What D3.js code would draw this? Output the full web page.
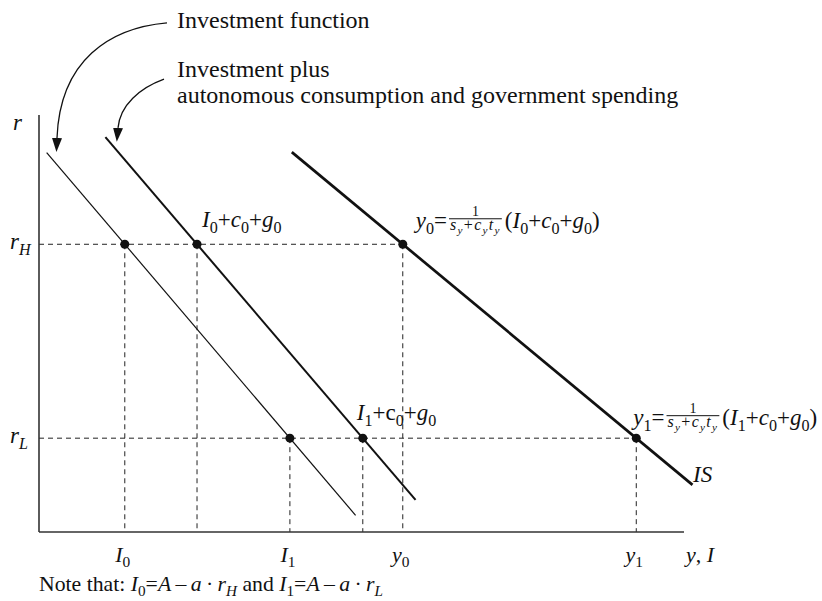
<!DOCTYPE html>
<html lang="en">
    <head>
        <meta charset="utf-8">
        <title>IS curve derivation</title>
        <script src="https://d3js.org/d3.v7.min.js"></script>
        <style type="text/css">
            body { margin: 0; background: #fff; }
            text { font-family: "Liberation Serif", "Times New Roman", serif; fill: #111; }
        </style>
    </head>
    <body>
        <svg width="822" height="601"></svg>
        <script type="text/javascript">

            // interest rate levels (rH, rL) in chart units
            const rLevels = [6.9, 2.25];
            const rNames = ["H", "L"];
            // x positions of each schedule at rH and at rL
            const investment = [13.3, 38.9];
            const investPlus = [24.5, 50.2];
            const isCurve = [56.4, 92.6];
            // r range over which each schedule is drawn [top, bottom]
            const investSpan = [9.1, 0.4];
            const plusSpan = [9.47, 0.77];
            const isSpan = [9.11, 1.13];
            // axis labels under the vertical guides
            const xLabels = [
                {v: investment[0], label: "I_0"},
                {v: investment[1], label: "I_1"},
                {v: isCurve[0], label: "y_0"},
                {v: isCurve[1], label: "y_1"}
            ];
            // annotation arrows (chart units): start, c1, c2, end
            const arrows = [
                [[19.84, 12.21], [11.0, 12.09], [3.26, 11.32], [2.79, 9.45]],
                [[19.38, 10.86], [15.66, 10.65], [12.56, 10.24], [12.25, 9.69]]
            ];

            const svg = d3.select("svg");
            const x = d3.scaleLinear().domain([0, 100]).range([39, 684]);
            const y = d3.scaleLinear().domain([0, 10]).range([532, 115]);

            // turns "I_0+c_0" into styled pieces; letters italic, {..} roman
            function parse(str) {
                const out = [];
                let roman = false;
                for (let i = 0; i < str.length; i++) {
                    let ch = str[i];
                    if (ch === "{") { roman = true; continue; }
                    if (ch === "}") { roman = false; continue; }
                    let sub = false;
                    if (ch === "_") { sub = true; ch = str[++i]; }
                    const ital = !roman && /[A-Za-z]/.test(ch);
                    const last = out[out.length - 1];
                    if (last && last.sub === sub && last.ital === ital) last.t += ch;
                    else out.push({t: ch, sub: sub, ital: ital});
                }
                return out;
            }

            // writes pieces into a text element, first tspan placed at px,py
            function richInto(t, px, py, str, size, spacing) {
                let shift = 0;
                parse(str).forEach((p, k) => {
                    const ts = t.append("tspan").text(p.t).attr("font-size", p.sub ? size * 0.7 : size);
                    const want = p.sub ? size * 0.24 : 0;
                    if (k === 0) { ts.attr("x", px).attr("y", py + want); shift = want; }
                    else if (want !== shift) { ts.attr("dy", want - shift); shift = want; }
                    if (p.ital) ts.attr("font-style", "italic");
                    if (spacing) ts.attr("letter-spacing", spacing);
                });
                return t;
            }

            function rich(g, px, py, str, size, anchor) {
                const t = g.append("text").attr("text-anchor", anchor || "start");
                return richInto(t, px, py, str, size);
            }

            function measure(g, str, size, spacing) {
                const t = richInto(g.append("text"), 0, -50, str, size, spacing);
                const w = t.node().getComputedTextLength();
                t.remove();
                return w;
            }

            // lhs, stacked fraction 1/(sy+cyty), rhs: all in one text element
            function formula(g, px, py, lhs, rhs) {
                const wl = measure(g, lhs, 23);
                const wd = measure(g, "s_y+c_yt_y", 16, 1.3) + 2;
                const fx = px + wl + 2;
                g.append("line")
                    .attr("x1", fx).attr("x2", fx + wd)
                    .attr("y1", py - 9.5).attr("y2", py - 9.5)
                    .attr("stroke", "#111").attr("stroke-width", 1);
                const t = g.append("text");
                richInto(t, px, py, lhs, 23);
                t.append("tspan").attr("x", fx + wd / 2 - 3.5).attr("y", py - 12)
                    .attr("font-size", 14).text("1");
                richInto(t, fx + 1, py + 2, "s_y+c_yt_y", 16, 1.3);
                richInto(t, fx + wd + 3, py, rhs, 23);
            }

            const xAt = (pts, r) => pts[0] + (r - rLevels[0]) * (pts[1] - pts[0]) / (rLevels[1] - rLevels[0]);

            // dashed guides
            const guides = svg.append("g")
                .attr("stroke", "#222").attr("stroke-width", 1)
                .attr("stroke-dasharray", "5,4").attr("fill", "none");
            rLevels.forEach((r, i) => {
                guides.append("line")
                    .attr("x1", x(0)).attr("x2", x(isCurve[i]))
                    .attr("y1", y(r)).attr("y2", y(r));
                [investment[i], investPlus[i], isCurve[i]].forEach(v => {
                    guides.append("line")
                        .attr("x1", x(v)).attr("x2", x(v))
                        .attr("y1", y(r)).attr("y2", y(0));
                });
            });

            // axes
            svg.append("line")
                .attr("x1", x(0)).attr("x2", x(0)).attr("y1", y(10)).attr("y2", y(0))
                .attr("stroke", "#333").attr("stroke-width", 1.6);
            svg.append("line")
                .attr("x1", x(0)).attr("x2", x(100)).attr("y1", y(0)).attr("y2", y(0))
                .attr("stroke", "#333").attr("stroke-width", 1.6);

            // schedules
            const schedules = [
                {pts: investment, span: investSpan, w: 1.2},
                {pts: investPlus, span: plusSpan, w: 2},
                {pts: isCurve, span: isSpan, w: 2.7}
            ];
            schedules.forEach(s => {
                svg.append("line")
                    .attr("x1", x(xAt(s.pts, s.span[0]))).attr("y1", y(s.span[0]))
                    .attr("x2", x(xAt(s.pts, s.span[1]))).attr("y2", y(s.span[1]))
                    .attr("stroke", "#111").attr("stroke-width", s.w);
            });

            // dots
            schedules.forEach(s => {
                rLevels.forEach((r, i) => {
                    svg.append("circle")
                        .attr("cx", x(s.pts[i])).attr("cy", y(r)).attr("r", 4.5)
                        .attr("fill", "#111");
                });
            });

            // arrows
            svg.append("defs").append("marker")
                .attr("id", "ah").attr("viewBox", "0 -5 14 10")
                .attr("refX", 0).attr("refY", 0)
                .attr("markerWidth", 14).attr("markerHeight", 10)
                .attr("markerUnits", "userSpaceOnUse").attr("orient", "auto")
                .append("path").attr("d", "M0,-5L14,0L0,5Z").attr("fill", "#111");
            arrows.forEach(a => {
                const p = a.map(d => [x(d[0]), y(d[1])]);
                svg.append("path")
                    .attr("d", `M${p[0]}C${p[1]} ${p[2]} ${p[3]}`)
                    .attr("fill", "none").attr("stroke", "#111").attr("stroke-width", 1.3)
                    .attr("marker-end", "url(#ah)");
            });

            // texts
            const labels = svg.append("g");
            labels.append("text").attr("x", 177).attr("y", 28).attr("font-size", 24).text("Investment function");
            labels.append("text").attr("x", 177).attr("y", 77).attr("font-size", 24).text("Investment plus");
            labels.append("text").attr("x", 177).attr("y", 103).attr("font-size", 24).text("autonomous consumption and government spending");

            rich(labels, 13, 130, "r", 23);
            rLevels.forEach((r, i) => rich(labels, 10, y(r) + 5, "r_" + rNames[i], 23));

            xLabels.forEach(d => rich(labels, x(d.v) - 2, 562, d.label, 22, "middle"));
            rich(labels, 686, 562, "y, I", 22);

            rich(labels, x(investPlus[0]) + 5, y(rLevels[0]) - 17, "I_0+c_0+g_0", 23);
            rich(labels, x(investPlus[1]) - 6, y(rLevels[1]) - 18, "I_1+{c}_0+g_0", 23);
            formula(labels, x(isCurve[0]) + 13, y(rLevels[0]) - 16, "y_0=", "(I_0+c_0+g_0)");
            formula(labels, x(isCurve[1]) - 3, y(rLevels[1]) - 13, "y_1=", "(I_1+c_0+g_0)");
            rich(labels, 693, 482, "IS", 23);

            rich(labels, 39, 591, "{Note that: }I_0=A\u2009–\u2009a\u2009·\u2009r_H{ and }I_1=A\u2009–\u2009a\u2009·\u2009r_L", 22)
                .attr("textLength", 344).attr("lengthAdjust", "spacingAndGlyphs");

        </script>
    </body>
</html>
